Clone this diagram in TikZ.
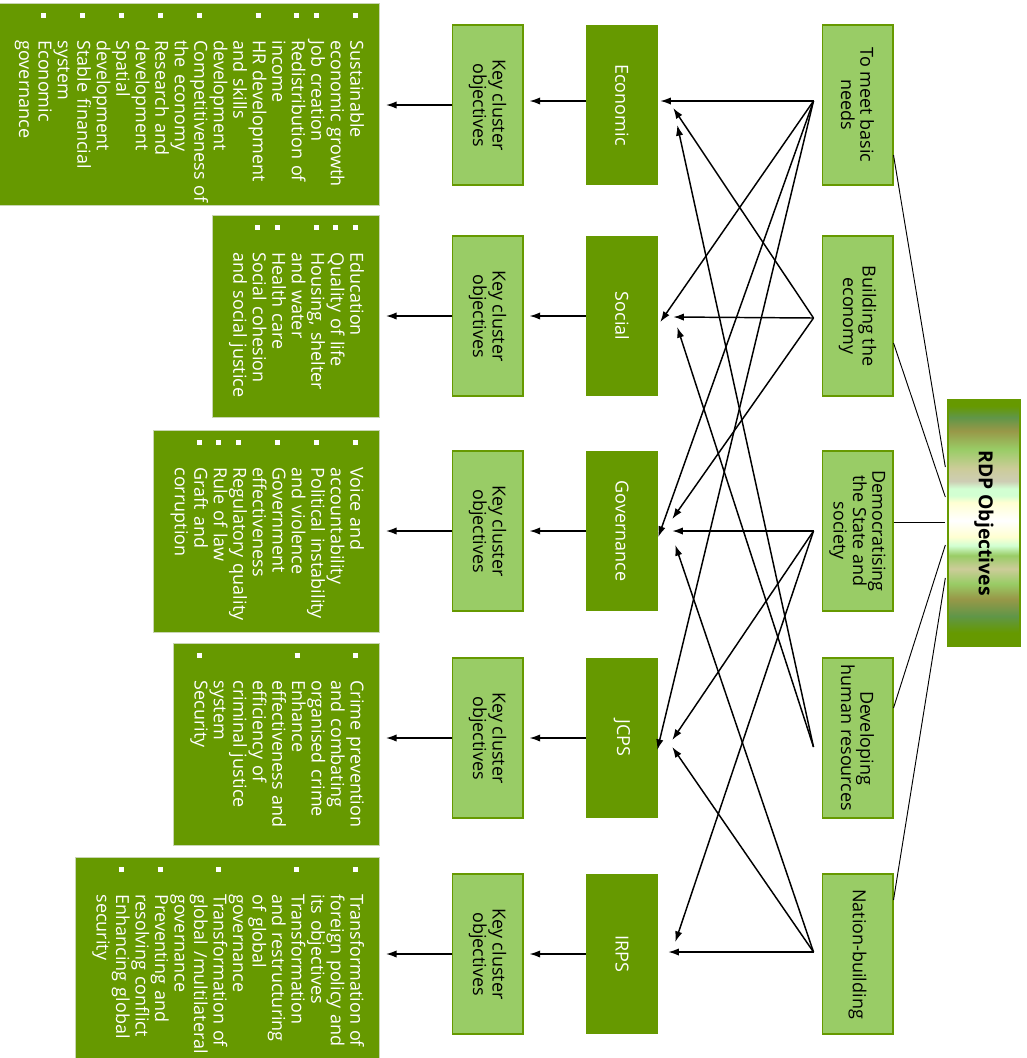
\documentclass[tikz,border=0pt]{standalone}
\usepackage{fontspec}
\setmainfont{Open Sans}
\usetikzlibrary{calc,arrows.meta}

\definecolor{dgreen}{RGB}{102,153,0}
\definecolor{lgreen}{RGB}{153,204,102}
\definecolor{boxedge}{RGB}{200,214,178}
\definecolor{mgreen}{RGB}{96,150,72}
\definecolor{olive}{RGB}{152,152,72}
\definecolor{beige}{RGB}{204,204,153}
\definecolor{greige}{RGB}{205,205,180}
\definecolor{mint}{RGB}{210,255,210}
\definecolor{paleyel}{RGB}{255,255,210}

\pgfdeclareverticalshading{rdpbands}{100bp}{%
  color(0bp)=(dgreen); color(25bp)=(dgreen); color(27.7bp)=(dgreen);
  color(31.1bp)=(mgreen); color(34.6bp)=(olive); color(37.7bp)=(lgreen);
  color(40.7bp)=(beige); color(43.4bp)=(lgreen); color(45.4bp)=(mint);
  color(47.2bp)=(paleyel); color(50.5bp)=(white); color(54.2bp)=(paleyel);
  color(55.6bp)=(mint); color(57bp)=(mint); color(58.5bp)=(greige);
  color(61.1bp)=(beige); color(65bp)=(lgreen); color(68.7bp)=(olive);
  color(71.5bp)=(mgreen); color(73.8bp)=(dgreen); color(75bp)=(dgreen);
  color(100bp)=(dgreen)}

\newcommand{\bsq}{\rule[1.9pt]{3.75pt}{3.75pt}}
\newenvironment{blist}{\noindent\begin{tabular}{@{\hspace{7pt}}p{3.75pt}@{\hspace{17pt}}l@{}}}{\end{tabular}}

\begin{document}
\begin{tikzpicture}[x=0.75pt, y=0.75pt, rotate=-90, transform shape,
    >={Latex[length=8pt,width=5.5pt]},
    font=\fontsize{13.5}{14.55}\selectfont,
    objbox/.style={draw=dgreen, line width=1pt, fill=lgreen, minimum width=120pt, minimum height=53pt, align=center, inner sep=1pt},
    clubox/.style={fill=dgreen, text=white, minimum width=120pt, minimum height=54pt, inner sep=1pt},
    listbox/.style={draw=boxedge, line width=0.8pt, fill=dgreen, text=white, text width=151.5pt, inner xsep=0pt, inner ysep=11.5pt, align=left, anchor=north west},
    link/.style={->, line width=1.1pt},
    feed/.style={line width=0.7pt}]
  %\draw [help lines] (0,0) grid [step=50] (1058,1026);
  \useasboundingbox (0,0) rectangle (1058,1026);

  \node [draw=dgreen, line width=1pt, shading=rdpbands, minimum width=184.5pt, minimum height=54pt, font=\fontsize{14.5}{17}\selectfont\bfseries] (rdp) at (523,984) {RDP Objectives};

  \node [objbox] (meet) at (105,857.5) {To meet basic\\needs};
  \node [objbox] (econ) at (316,857.5) {Building the\\economy};
  \node [objbox] (demo) at (531,857.5) {Democratising\\the State and\\society};
  \node [objbox] (hr) at (738,857.5) {Developing\\human resources};
  \node [objbox] (nation) at (954,857.5) {Nation-building};

  \node [clubox] (eco) at (105,622) {Economic};
  \node [clubox] (soc) at (316,622) {Social};
  \node [clubox] (gov) at (531,622) {Governance};
  \node [clubox] (jcps) at (738,622) {JCPS};
  \node [clubox] (irps) at (954,622) {IRPS};

  \node [objbox] (key1) at (105,487.5) {Key cluster\\objectives};
  \node [objbox] (key2) at (316,487.5) {Key cluster\\objectives};
  \node [objbox] (key3) at (531,487.5) {Key cluster\\objectives};
  \node [objbox] (key4) at (738,487.5) {Key cluster\\objectives};
  \node [objbox] (key5) at (954,487.5) {Key cluster\\objectives};

  \node [listbox] (list1) at (3,380) {\begin{blist}
    \bsq & Sustainable\\ & economic growth\\
    \bsq & Job creation\\
    \bsq & Redistribution of\\ & income\\
    \bsq & HR development\\ & and skills\\ & development\\
    \bsq & Competitiveness of\\ & the economy\\
    \bsq & Research and\\ & development\\
    \bsq & Spatial\\ & development\\
    \bsq & Stable financial\\ & system\\
    \bsq & Economic\\ & governance
  \end{blist}};
  \node [listbox] (list2) at (215,380) {\begin{blist}
    \bsq & Education\\
    \bsq & Quality of life\\
    \bsq & Housing, shelter\\ & and water\\
    \bsq & Health care\\
    \bsq & Social cohesion\\ & and social justice
  \end{blist}};
  \node [listbox] (list3) at (430,380) {\begin{blist}
    \bsq & Voice and\\ & accountability\\
    \bsq & Political instability\\ & and violence\\
    \bsq & Government\\ & effectiveness\\
    \bsq & Regulatory quality\\
    \bsq & Rule of law\\
    \bsq & Graft and\\ & corruption
  \end{blist}};
  \node [listbox] (list4) at (643,380) {\begin{blist}
    \bsq & Crime prevention\\ & and combating\\ & organised crime\\
    \bsq & Enhance\\ & effectiveness and\\ & efficiency of\\ & criminal justice\\ & system\\
    \bsq & Security
  \end{blist}};
  \node [listbox] (list5) at (857,380) {\begin{blist}
    \bsq & Transformation of\\ & foreign policy and\\ & its objectives\\
    \bsq & Transformation\\ & and restructuring\\ & of global\\ & governance\\
    \bsq & Transformation of\\ & global /multilateral\\ & governance\\
    \bsq & Preventing and\\ & resolving conflict\\
    \bsq & Enhancing global\\ & security
  \end{blist}};

  \draw [feed] ($(meet.north)+(50,0)$) -- ($(rdp.south)+(-56,-2)$);
  \draw [feed] ($(econ.north)+(27,0)$) -- ($(rdp.south)+(-26,-2)$);
  \draw [feed] ($(demo.north)+(-9,0)$) -- ($(rdp.south)+(-1,-2)$);
  \draw [feed] ($(hr.north)+(-30,0)$) -- ($(rdp.south)+(22,-2)$);
  \draw [feed] ($(nation.north)+(-54,0)$) -- ($(rdp.south)+(55,-2)$);

  \coordinate (s1) at ($(meet.south)+(-4,-8)$);
  \coordinate (s2) at ($(econ.south)+(2,-8)$);
  \coordinate (s3) at ($(demo.south)+(0,-8)$);
  \coordinate (s4) at ($(hr.south)+(9,-8)$);
  \coordinate (s5) at ($(nation.south)+(-2,-8)$);

  \draw [link] (s1) -- ($(eco.north)+(-4,2)$);
  \draw [link] (s1) -- ($(soc.north)+(6,2)$);
  \draw [link] (s1) -- ($(gov.north)+(6,0)$);
  \draw [link] (s1) -- ($(jcps.north)+(12,-1)$);
  \draw [link] (s2) -- ($(eco.north)+(3,15)$);
  \draw [link] (s2) -- ($(soc.north)+(1,15)$);
  \draw [link] (s2) -- ($(gov.north)+(-12,14)$);
  \draw [link] (s3) -- ($(gov.north)+(0,14)$);
  \draw [link] (s3) -- ($(jcps.north)+(2,14)$);
  \draw [link] (s3) -- ($(irps.north)+(-12,17)$);
  \draw [link] (s4) -- ($(eco.north)+(20,19)$);
  \draw [link] (s4) -- ($(soc.north)+(11,19)$);
  \draw [link] (s5) -- ($(gov.north)+(14,17)$);
  \draw [link] (s5) -- ($(jcps.north)+(9,14)$);
  \draw [link] (s5) -- ($(irps.north)+(-2,10)$);

  \draw [link] ($(eco.south)+(-4,0)$) -- ($(key1.north)+(-4,6)$);
  \draw [link] (soc.south) -- ($(key2.north)+(0,6)$);
  \draw [link] (gov.south) -- ($(key3.north)+(0,6)$);
  \draw [link] (jcps.south) -- ($(key4.north)+(0,6)$);
  \draw [link] (irps.south) -- ($(key5.north)+(0,6)$);

  \draw [link] (key1.south) -- ($(key1.south |- list1.north)+(0,6)$);
  \draw [link] (key2.south) -- ($(key2.south |- list2.north)+(0,6)$);
  \draw [link] (key3.south) -- ($(key3.south |- list3.north)+(0,6)$);
  \draw [link] (key4.south) -- ($(key4.south |- list4.north)+(0,6)$);
  \draw [link] (key5.south) -- ($(key5.south |- list5.north)+(0,6)$);
\end{tikzpicture}
\end{document}
